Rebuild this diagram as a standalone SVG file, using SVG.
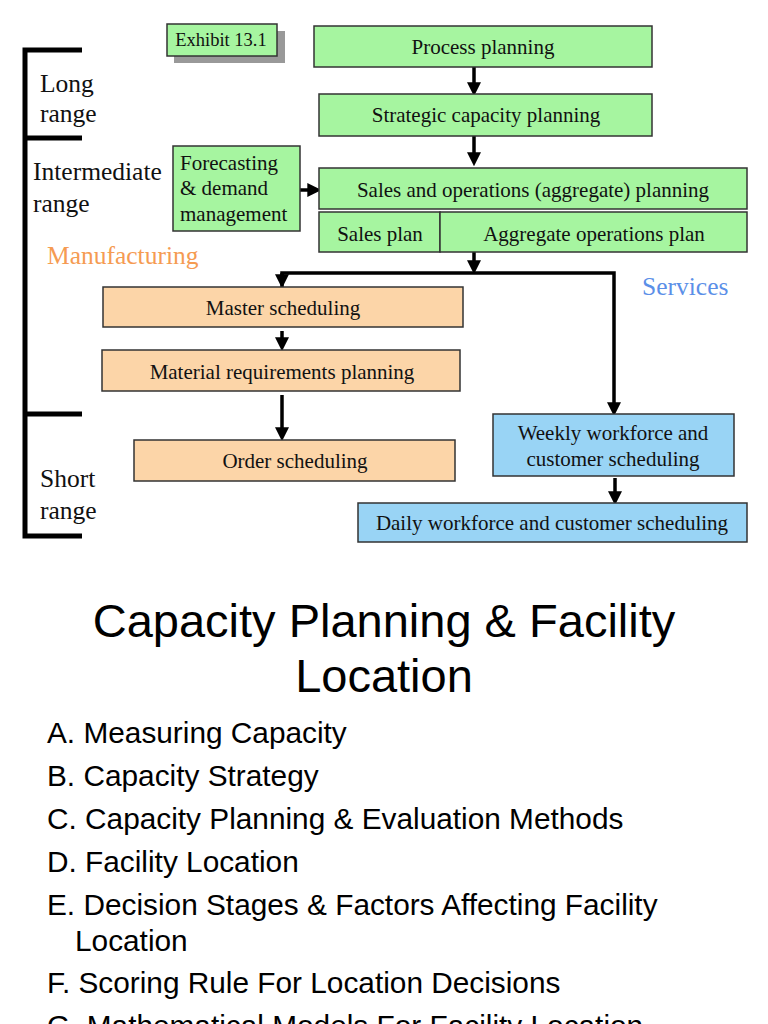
<svg xmlns="http://www.w3.org/2000/svg" width="768" height="1024" viewBox="0 0 768 1024">
<style>
.g{fill:#a6f5a0;stroke:#333;stroke-width:1.5}
.o{fill:#fcd5a8;stroke:#333;stroke-width:1.5}
.b{fill:#99d4f5;stroke:#333;stroke-width:1.5}
.t{font-family:"Liberation Serif",serif;font-size:21px;fill:#111;text-anchor:middle}
.l{font-family:"Liberation Serif",serif;font-size:25.5px;fill:#111}
.h{font-family:"Liberation Sans",Arial,sans-serif;font-size:47px;fill:#000;text-anchor:middle}
.li{font-family:"Liberation Sans",Arial,sans-serif;font-size:29.8px;fill:#000}
.c{stroke:#000;stroke-width:3.5;fill:none}
</style>
<defs>
<marker id="ah" markerWidth="4" markerHeight="4" refX="2.2" refY="2" orient="auto" markerUnits="strokeWidth">
<path d="M0,0 L4,2 L0,4 Z" fill="#000"/>
</marker>
</defs>
<rect width="768" height="1024" fill="#fff"/>
<g id="bracket" stroke="#000" stroke-width="5" fill="none">
<path d="M82,50 H25 V536 H82"/>
<path d="M25,138 H82"/>
<path d="M25,414 H82"/>
</g>
<g id="range-labels">
<text class="l" x="40" y="92">Long</text>
<text class="l" x="40" y="122">range</text>
<text class="l" x="33" y="180">Intermediate</text>
<text class="l" x="33" y="212">range</text>
<text class="l" x="47" y="264" style="fill:#f59b52">Manufacturing</text>
<text class="l" x="642" y="295" style="fill:#5b8fe8">Services</text>
<text class="l" x="40" y="487">Short</text>
<text class="l" x="40" y="519">range</text>
</g>
<g id="exhibit">
<rect x="174" y="31" width="111" height="32" fill="#999"/>
<rect class="g" x="167" y="24" width="110" height="32"/>
<text class="t" x="221" y="46" style="font-size:18.5px">Exhibit 13.1</text>
</g>
<g id="connectors">
<path class="c" d="M474,67 V90" marker-end="url(#ah)"/>
<path class="c" d="M474,136 V160" marker-end="url(#ah)"/>
<path class="c" d="M300,190 H315" marker-end="url(#ah)"/>
<path class="c" d="M474,252 V268" marker-end="url(#ah)"/>
<path class="c" d="M282,290 V273 H614 V410" marker-end="url(#ah)"/>
<path class="c" d="M282,273 V282" marker-end="url(#ah)"/>
<path class="c" d="M282,331 V345" marker-end="url(#ah)"/>
<path class="c" d="M282,395 V435" marker-end="url(#ah)"/>
<path class="c" d="M615,478 V499" marker-end="url(#ah)"/>
</g>
<g id="process-planning">
<rect class="g" x="314" y="26" width="338" height="41"/>
<text class="t" x="483" y="54">Process planning</text>
</g>
<g id="strategic-capacity">
<rect class="g" x="319" y="94" width="333" height="42"/>
<text class="t" x="486" y="122">Strategic capacity planning</text>
</g>
<g id="forecasting">
<rect class="g" x="173" y="146" width="127" height="85"/>
<text class="t" x="180" y="170" style="text-anchor:start">Forecasting</text>
<text class="t" x="180" y="195" style="text-anchor:start">&amp; demand</text>
<text class="t" x="180" y="221" style="text-anchor:start">management</text>
</g>
<g id="sales-ops">
<rect class="g" x="319" y="168" width="428" height="41"/>
<text class="t" x="533" y="197">Sales and operations (aggregate) planning</text>
</g>
<g id="sales-plan">
<rect class="g" x="319" y="212" width="121" height="40"/>
<text class="t" x="380" y="241">Sales plan</text>
</g>
<g id="aggregate-ops">
<rect class="g" x="440" y="212" width="307" height="40"/>
<text class="t" x="594" y="241">Aggregate operations plan</text>
</g>
<g id="master-scheduling">
<rect class="o" x="103" y="287" width="360" height="40"/>
<text class="t" x="283" y="315">Master scheduling</text>
</g>
<g id="mrp">
<rect class="o" x="102" y="350" width="358" height="41"/>
<text class="t" x="282" y="379">Material requirements planning</text>
</g>
<g id="order-scheduling">
<rect class="o" x="134" y="440" width="321" height="41"/>
<text class="t" x="295" y="468">Order scheduling</text>
</g>
<g id="weekly">
<rect class="b" x="493" y="414" width="241" height="62"/>
<text class="t" x="613" y="440">Weekly workforce and</text>
<text class="t" x="613" y="466">customer scheduling</text>
</g>
<g id="daily">
<rect class="b" x="358" y="503" width="389" height="39"/>
<text class="t" x="552" y="530">Daily workforce and customer scheduling</text>
</g>
<g id="title">
<text class="h" x="384" y="637">Capacity Planning &amp; Facility</text>
<text class="h" x="384" y="692">Location</text>
</g>
<g id="list">
<text class="li" x="47" y="743">A. Measuring Capacity</text>
<text class="li" x="47" y="786">B. Capacity Strategy</text>
<text class="li" x="47" y="829">C. Capacity Planning &amp; Evaluation Methods</text>
<text class="li" x="47" y="872">D. Facility Location</text>
<text class="li" x="47" y="915">E. Decision Stages &amp; Factors Affecting Facility</text>
<text class="li" x="75" y="951">Location</text>
<text class="li" x="47" y="993">F. Scoring Rule For Location Decisions</text>
<text class="li" x="47" y="1036">G. Mathematical Models For Facility Location</text>
</g>
</svg>
